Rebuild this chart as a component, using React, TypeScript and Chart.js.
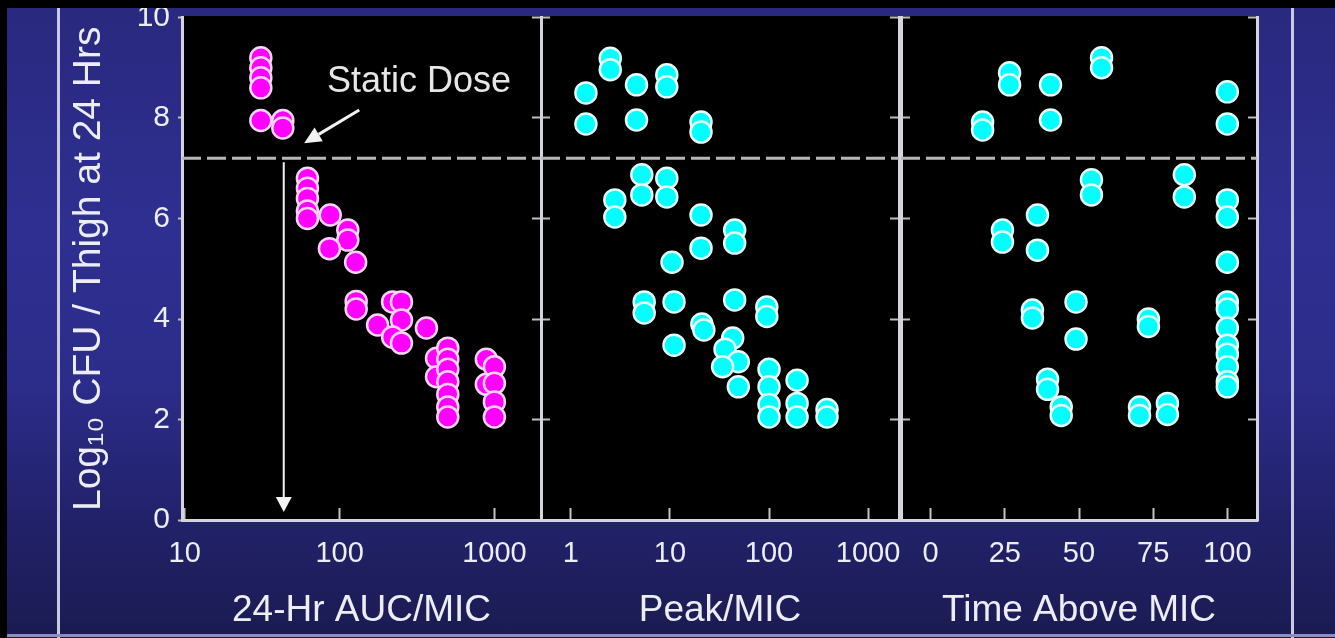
import React, { useEffect, useRef } from "react";
import { Chart, registerables } from "chart.js";

Chart.register(...registerables);

const W = 1335;
const H = 638;
const FONT = "'Liberation Sans', Arial, Helvetica, sans-serif";
Chart.defaults.font.family = FONT;

// ---------- data ----------
const Y_TICKS = [0, 2, 4, 6, 8, 10];
const AUC_TICKS = [10, 100, 1000];
const PEAK_TICKS = [1, 10, 100, 1000];
const TIME_TICKS = [0, 25, 50, 75, 100];

const AUC_X = [31, 31, 31, 31, 31, 43, 43, 62, 62, 62, 62, 62, 87, 113, 113, 86, 127, 128, 128, 176, 220, 251, 251, 220, 251, 364, 423, 423, 500, 500, 500, 500, 500, 500, 500, 887, 887, 1000, 1000, 1000, 1000];
const AUC_Y = [9.2, 9.0, 8.8, 8.6, 7.95, 7.95, 7.8, 6.8, 6.6, 6.4, 6.15, 6.0, 6.07, 5.77, 5.57, 5.4, 5.13, 4.35, 4.2, 3.88, 4.34, 4.34, 3.98, 3.64, 3.52, 3.82, 3.22, 2.85, 3.42, 3.2, 3.0, 2.75, 2.5, 2.25, 2.05, 3.2, 2.7, 3.05, 2.72, 2.35, 2.05];

const PEAK_X = [1.42, 1.42, 2.5, 2.5, 4.6, 4.6, 9.3, 9.3, 20.6, 20.6, 5.2, 5.2, 9.3, 9.3, 2.78, 2.78, 20.6, 45, 45, 20.6, 10.5, 5.5, 5.5, 11, 45, 95, 95, 21, 22, 11, 43, 36, 49, 34, 49, 100, 100, 100, 100, 192, 192, 192, 385, 385];
const PEAK_Y = [8.5, 7.88, 9.19, 8.96, 8.66, 7.96, 8.86, 8.62, 7.92, 7.72, 6.87, 6.47, 6.8, 6.43, 6.37, 6.03, 6.07, 5.77, 5.51, 5.41, 5.13, 4.34, 4.12, 4.34, 4.38, 4.24, 4.05, 3.9, 3.78, 3.48, 3.62, 3.4, 3.15, 3.05, 2.65, 3.0, 2.65, 2.3, 2.05, 2.78, 2.32, 2.05, 2.2, 2.05];

const TIME_X = [17.5, 17.5, 26.6, 26.6, 40.4, 40.4, 57.6, 57.6, 100, 100, 54.2, 54.2, 85.5, 85.5, 100, 100, 36, 36, 24.2, 24.2, 100, 100, 49, 49, 34.3, 34.3, 73.4, 73.4, 39.4, 39.4, 44, 44, 70.4, 70.4, 79.8, 79.8, 100, 100, 100, 100, 100, 100, 100];
const TIME_Y = [7.92, 7.76, 8.9, 8.66, 8.66, 7.96, 9.2, 9.0, 8.52, 7.88, 6.77, 6.47, 6.87, 6.43, 6.37, 6.03, 6.07, 5.37, 5.77, 5.53, 5.13, 4.34, 4.34, 3.6, 4.18, 4.02, 4.0, 3.85, 2.8, 2.6, 2.25, 2.08, 2.25, 2.08, 2.32, 2.1, 4.2, 3.82, 3.48, 3.3, 3.05, 2.75, 2.65];

const STATIC_DOSE_LOG_CFU = 7.2;
const STATIC_DOSE_AUC = 43.6;
const STATIC_ARROW_END = 0.16;
const STATIC_LABEL = "Static Dose";
const STATIC_LABEL_AT = [326, 8.72];
const STATIC_POINTER_FROM = [134, 8.16];
const STATIC_POINTER_TO = [59, 7.5];

const Y_TITLE = "Log\u2081\u2080 CFU / Thigh at 24 Hrs";

// ---------- layout ----------
const PLOT_TOP = 17.5;
const PLOT_BOTTOM = 520;
const TEXT = "#ededf5";
const LINE = "#d4d4dc";

type PanelCfg = {
  key: string;
  left: number;
  right: number;
  xType: "logarithmic" | "linear";
  xMin: number;
  xMax: number;
  xTicks: number[];
  xTitle: string;
  xs: number[];
  ys: number[];
  fill: string;
  stroke: string;
  showY: boolean;
  arrow: boolean;
};

const PANELS: PanelCfg[] = [
  { key: "auc", left: 0, right: 541, xType: "logarithmic", xMin: 9.6, xMax: 2000, xTicks: AUC_TICKS, xTitle: "24-Hr AUC/MIC", xs: AUC_X, ys: AUC_Y, fill: "#ff00ff", stroke: "#ffd4ff", showY: true, arrow: true },
  { key: "peak", left: 541, right: 899, xType: "logarithmic", xMin: 0.5, xMax: 2050, xTicks: PEAK_TICKS, xTitle: "Peak/MIC", xs: PEAK_X, ys: PEAK_Y, fill: "#00ffff", stroke: "#e4ffff", showY: false, arrow: false },
  { key: "time", left: 901, right: 1257, xType: "linear", xMin: -10, xMax: 110, xTicks: TIME_TICKS, xTitle: "Time Above MIC", xs: TIME_X, ys: TIME_Y, fill: "#00ffff", stroke: "#e4ffff", showY: false, arrow: false },
];

const plotBg = {
  id: "plotBg",
  beforeDraw(chart: any) {
    const { ctx, chartArea: a } = chart;
    ctx.save();
    ctx.fillStyle = "#000";
    ctx.fillRect(a.left, a.top - 1.5, a.right - a.left, a.bottom - a.top + 1.5);
    ctx.restore();
  },
};

const staticLine = {
  id: "staticLine",
  beforeDatasetsDraw(chart: any) {
    const { ctx, chartArea: a, scales } = chart;
    const y = scales.y.getPixelForValue(STATIC_DOSE_LOG_CFU);
    ctx.save();
    ctx.strokeStyle = "#b8b8b8";
    ctx.lineWidth = 3;
    ctx.setLineDash([19, 6]);
    ctx.beginPath();
    ctx.moveTo(a.left, y);
    ctx.lineTo(a.right, y);
    ctx.stroke();
    ctx.restore();
  },
};

function arrowHead(ctx: CanvasRenderingContext2D, x0: number, y0: number, x1: number, y1: number, len: number, half: number) {
  const ang = Math.atan2(y1 - y0, x1 - x0);
  const bx = x1 - Math.cos(ang) * len;
  const by = y1 - Math.sin(ang) * len;
  ctx.beginPath();
  ctx.moveTo(x1, y1);
  ctx.lineTo(bx + Math.sin(ang) * half, by - Math.cos(ang) * half);
  ctx.lineTo(bx - Math.sin(ang) * half, by + Math.cos(ang) * half);
  ctx.closePath();
  ctx.fill();
  return [bx, by];
}

const staticAnnot = {
  id: "staticAnnot",
  afterDatasetsDraw(chart: any) {
    const { ctx, scales } = chart;
    const xs = scales.x;
    const ys = scales.y;
    ctx.save();
    ctx.strokeStyle = "#f2f2f2";
    ctx.fillStyle = "#f2f2f2";
    // vertical arrow
    const ax = xs.getPixelForValue(STATIC_DOSE_AUC);
    const ay0 = ys.getPixelForValue(STATIC_DOSE_LOG_CFU) + 4;
    const ay1 = ys.getPixelForValue(STATIC_ARROW_END);
    const [, vby] = arrowHead(ctx, ax, ay0, ax, ay1, 15, 8);
    ctx.lineWidth = 2;
    ctx.beginPath();
    ctx.moveTo(ax, ay0);
    ctx.lineTo(ax, vby + 1);
    ctx.stroke();
    // pointer arrow
    const px0 = xs.getPixelForValue(STATIC_POINTER_FROM[0]);
    const py0 = ys.getPixelForValue(STATIC_POINTER_FROM[1]);
    const px1 = xs.getPixelForValue(STATIC_POINTER_TO[0]);
    const py1 = ys.getPixelForValue(STATIC_POINTER_TO[1]);
    const [bx, by] = arrowHead(ctx, px0, py0, px1, py1, 17, 8);
    ctx.lineWidth = 3;
    ctx.beginPath();
    ctx.moveTo(px0, py0);
    ctx.lineTo(bx, by);
    ctx.stroke();
    // label
    ctx.font = `36px ${FONT}`;
    ctx.textAlign = "center";
    ctx.textBaseline = "middle";
    ctx.fillStyle = "#e6e6e6";
    ctx.fillText(STATIC_LABEL, xs.getPixelForValue(STATIC_LABEL_AT[0]), ys.getPixelForValue(STATIC_LABEL_AT[1]));
    ctx.restore();
  },
};

function Panel({ cfg }: { cfg: PanelCfg }) {
  const ref = useRef<HTMLCanvasElement>(null);
  useEffect(() => {
    const data = cfg.xs.map((x, i) => ({ x, y: cfg.ys[i] }));
    const plugins: any[] = [plotBg, staticLine];
    if (cfg.arrow) plugins.push(staticAnnot);
    const chart = new Chart(ref.current as HTMLCanvasElement, {
      type: "scatter",
      data: {
        datasets: [
          {
            data,
            backgroundColor: cfg.fill,
            borderColor: cfg.stroke,
            borderWidth: 2.5,
            pointRadius: 10.5,
            pointHoverRadius: 10.5,
          },
        ],
      },
      plugins,
      options: {
        responsive: false,
        animation: false,
        devicePixelRatio: 1,
        layout: { padding: { left: cfg.left, right: W - cfg.right, top: PLOT_TOP, bottom: 0 } },
        plugins: { legend: { display: false }, tooltip: { enabled: false } },
        scales: {
          x: {
            type: cfg.xType,
            position: "bottom",
            min: cfg.xMin,
            max: cfg.xMax,
            afterBuildTicks: (s: any) => {
              s.ticks = cfg.xTicks.map((v) => ({ value: v }));
            },
            afterFit: (s: any) => {
              s.height = H - PLOT_BOTTOM;
              s.paddingLeft = 0;
              s.paddingRight = 0;
            },
            ticks: {
              color: TEXT,
              font: { size: 29 },
              padding: 29,
              maxRotation: 0,
              autoSkip: false,
              callback: (v: any) => String(v),
            },
            grid: { drawOnChartArea: false, drawTicks: true, tickLength: -12, tickWidth: 2, tickColor: "#c4c4c4", color: "#c4c4c4" },
            border: { display: true, color: LINE, width: 3 },
            title: { display: true, text: cfg.xTitle, color: TEXT, font: { size: 37 }, padding: { top: 0, bottom: 5 } },
          } as any,
          y: {
            type: "linear",
            position: "left",
            min: 0,
            max: 10,
            afterBuildTicks: (s: any) => {
              s.ticks = Y_TICKS.map((v) => ({ value: v }));
            },
            afterFit: (s: any) => {
              s.width = cfg.showY ? 182 : 0;
              s.paddingTop = 0;
              s.paddingBottom = 0;
            },
            ticks: { display: cfg.showY, color: TEXT, font: { size: 30 }, padding: 8 },
            grid: { drawOnChartArea: false, drawTicks: true, tickLength: cfg.showY ? 4 : -9, tickWidth: 2, tickColor: "#bdbdbd", color: "#bdbdbd" },
            border: { display: true, color: LINE, width: 3 },
            title: { display: cfg.showY, text: Y_TITLE, color: TEXT, font: { size: 39 }, padding: { top: 66, bottom: 0 } },
          } as any,
          y2: {
            type: "linear",
            position: "right",
            min: 0,
            max: 10,
            afterBuildTicks: (s: any) => {
              s.ticks = Y_TICKS.map((v) => ({ value: v }));
            },
            afterFit: (s: any) => {
              s.width = 0;
              s.paddingTop = 0;
              s.paddingBottom = 0;
            },
            ticks: { display: false },
            grid: { drawOnChartArea: false, drawTicks: true, tickLength: -9, tickWidth: 2, tickColor: "#bdbdbd", color: "#bdbdbd" },
            border: { display: true, color: LINE, width: 3 },
          } as any,
        },
      },
    });
    return () => chart.destroy();
  }, [cfg]);
  return (
    <canvas
      ref={ref}
      width={W}
      height={H}
      style={{ position: "absolute", left: 0, top: 0, width: W, height: H }}
    />
  );
}

export default function App() {
  return (
    <div
      style={{
        position: "fixed",
        left: 0,
        top: 0,
        width: W,
        height: H,
        background: "#000",
        overflow: "hidden",
      }}
    >
      <div
        style={{
          position: "absolute",
          left: 7,
          top: 8,
          width: W - 7,
          height: H - 8,
          background: "linear-gradient(to bottom, #29297f 0%, #2f2f92 35%, #2c2c8a 60%, #22226c 80%, #1b1b52 100%)",
        }}
      />
      <div style={{ position: "absolute", left: 57, top: 8, width: 3, height: H - 8, background: "#c9c9e2" }} />
      <div style={{ position: "absolute", left: 1291, top: 8, width: 3, height: H - 8, background: "#c9c9e2" }} />
      <div style={{ position: "absolute", left: 7, top: 634, width: W - 7, height: 3, background: "#8e8eba" }} />
      {PANELS.map((p) => (
        <Panel key={p.key} cfg={p} />
      ))}
      <div style={{ position: "absolute", left: 0, top: 0, width: W, height: 8, background: "#000" }} />
      <div style={{ position: "absolute", left: 0, top: 0, width: 7, height: H, background: "#000" }} />
    </div>
  );
}
